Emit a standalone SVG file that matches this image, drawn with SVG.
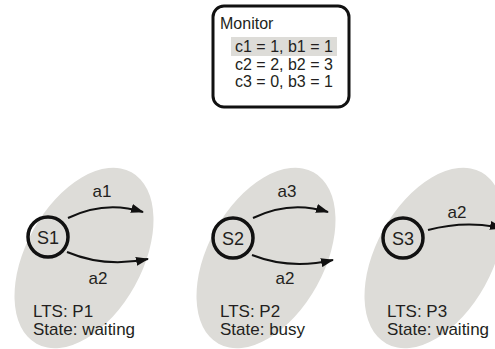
<svg xmlns="http://www.w3.org/2000/svg" width="495" height="349" viewBox="0 0 495 349">
<defs>
<style>
text{font-family:"Liberation Sans",Arial,sans-serif;fill:#231f20}
.lbl{font-size:17px}
.mon{font-size:16px}
.st{font-size:18px;text-anchor:middle}
.mid{text-anchor:middle}
.blob{fill:#dddcd8}
.state{fill:none;stroke:#111;stroke-width:3.5}
.arc{fill:none;stroke:#111;stroke-width:2}
</style>
<marker id="ah" viewBox="0 0 13 9" refX="12" refY="4.5" markerWidth="13" markerHeight="9" markerUnits="userSpaceOnUse" orient="auto">
<path d="M0 0 L13 4.5 L0 9 Z" fill="#111"/>
</marker>
</defs>
<g id="monitor">
<rect x="213" y="6" width="136" height="101" rx="11" fill="#fff" stroke="#111" stroke-width="3"/>
<rect x="231" y="37" width="106" height="19" fill="#dddcd8"/>
<text class="mon" x="220" y="29">Monitor</text>
<text class="mon" x="235" y="52">c1 = 1, b1 = 1</text>
<text class="mon" x="235" y="70">c2 = 2, b2 = 3</text>
<text class="mon" x="235" y="87">c3 = 0, b3 = 1</text>
</g>
<g id="p1">
<ellipse class="blob" cx="84" cy="258" rx="58" ry="98" transform="rotate(29 84 258)"/>
<circle class="state" cx="48" cy="237" r="20"/>
<text class="st" x="48" y="244">S1</text>
<text class="lbl" x="33" y="317">LTS: P1</text>
<text class="lbl" x="33" y="335">State: waiting</text>
</g>
<g id="p2">
<ellipse class="blob" cx="266" cy="258" rx="58" ry="98" transform="rotate(29 266 258)"/>
<circle class="state" cx="233" cy="238" r="20"/>
<text class="st" x="233" y="245">S2</text>
<text class="lbl" x="220" y="317">LTS: P2</text>
<text class="lbl" x="220" y="335">State: busy</text>
</g>
<g id="p3">
<ellipse class="blob" cx="434" cy="258" rx="58" ry="98" transform="rotate(29 434 258)"/>
<circle class="state" cx="403" cy="238" r="20"/>
<text class="st" x="403" y="245">S3</text>
<text class="lbl" x="387" y="317">LTS: P3</text>
<text class="lbl" x="387" y="335">State: waiting</text>
</g>
<g id="connectors">
<path class="arc" d="M68 218 Q105 200 143 212" marker-end="url(#ah)"/>
<path class="arc" d="M67 252 Q105 268 148 259" marker-end="url(#ah)"/>
<path class="arc" d="M253 218 Q290 200 328 212" marker-end="url(#ah)"/>
<path class="arc" d="M252 255 Q290 270 333 260" marker-end="url(#ah)"/>
<path class="arc" d="M428 230 Q465 220 502 228" marker-end="url(#ah)"/>
<text class="lbl mid" x="102" y="197">a1</text>
<text class="lbl mid" x="98" y="284">a2</text>
<text class="lbl mid" x="287" y="197">a3</text>
<text class="lbl mid" x="285" y="284">a2</text>
<text class="lbl mid" x="457" y="218">a2</text>
</g>
</svg>
